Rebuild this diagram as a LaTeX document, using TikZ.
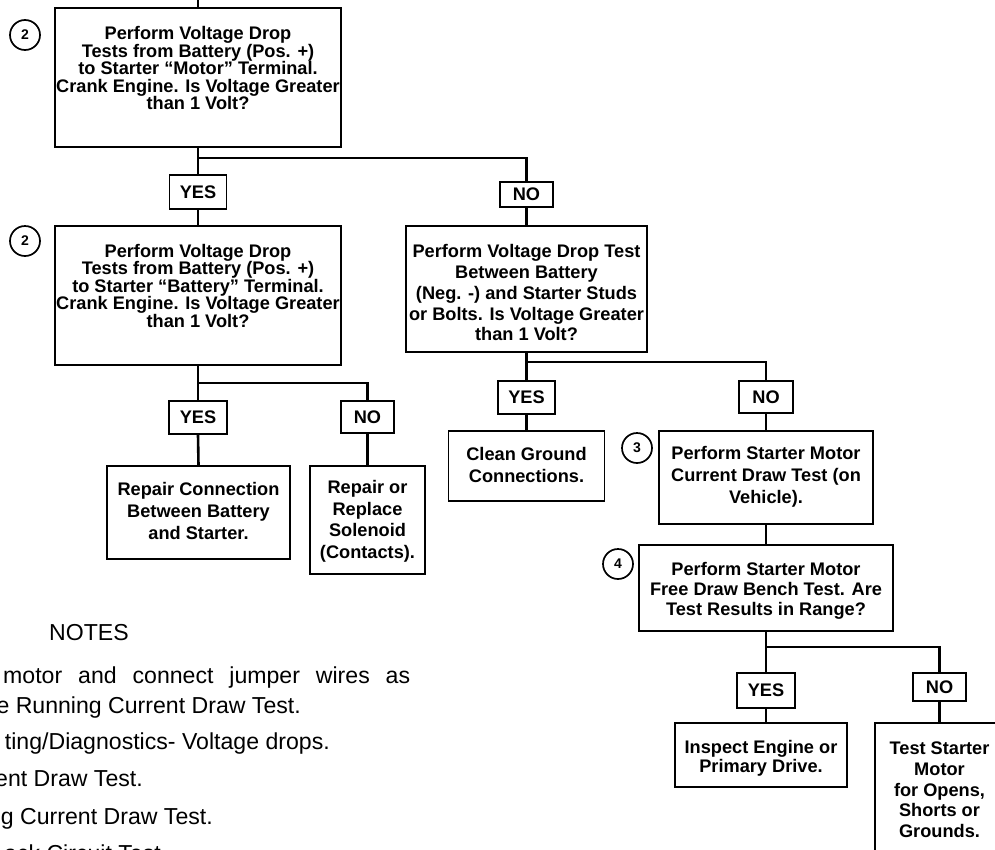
\documentclass[tikz,border=0pt]{standalone}
\usepackage{fontspec}
\setmainfont{Liberation Sans}
\begin{document}
\begin{tikzpicture}[x=1pt,y=-1pt,
  box/.style={draw, line width=1.3pt, rectangle, inner sep=0pt},
  yn/.style={box, font=\bfseries\fontsize{18.2}{20}\selectfont},
  conn/.style={line width=2.6pt},
  txt/.style={font=\bfseries\fontsize{18.2}{#1}\selectfont, align=center, inner sep=0pt},
  num/.style={circle, draw, line width=1.7pt, minimum size=30pt, inner sep=0pt, font=\bfseries\fontsize{14}{15}\selectfont},
  note/.style={font=\fontsize{23.1}{27}\selectfont, inner sep=0pt}]
\useasboundingbox (0,0) rectangle (995,849);
\clip (0,0) rectangle (995,849);

% boxes
\node[box, minimum width=286pt, minimum height=139pt] (b1) at (198,77.5) {};
\node[box, minimum width=286pt, minimum height=139pt] (b2) at (198,295.5) {};
\node[yn, minimum width=57pt, minimum height=34pt] (yes1) at (198,192) {YES};
\node[yn, minimum width=53pt, minimum height=25pt] (no1) at (526.5,194.5) {NO};
\node[box, minimum width=241pt, minimum height=126pt] (b3) at (526.5,289) {};
\node[yn, minimum width=57pt, minimum height=33pt] (yes2) at (526.5,397.5) {YES};
\node[yn, minimum width=54pt, minimum height=32pt] (no2) at (766,397) {NO};
\node[box, minimum width=156pt, minimum height=70pt] (clean) at (526.5,466) {};
\node[box, minimum width=214pt, minimum height=93pt] (cur) at (766,477.5) {};
\node[box, minimum width=254pt, minimum height=86pt] (b4) at (766,588) {};
\node[yn, minimum width=58pt, minimum height=35pt] (yes3) at (766,690.5) {YES};
\node[yn, minimum width=53pt, minimum height=28pt] (no3) at (939.5,687) {NO};
\node[box, minimum width=172pt, minimum height=64pt] (insp) at (761,755) {};
\node[box, minimum width=129pt, minimum height=147pt] (tst) at (939.5,796.5) {};
\node[yn, minimum width=58pt, minimum height=33pt] (yesL) at (198,417.5) {YES};
\node[yn, minimum width=53pt, minimum height=32pt] (noL) at (367.5,417) {NO};
\node[box, minimum width=183pt, minimum height=93pt] (rc) at (198.5,512.5) {};
\node[box, minimum width=115pt, minimum height=108pt] (rr) at (367.5,520) {};

% texts
\node[txt=17.5] (t1) at (198,68.2) {Perform Voltage Drop\\Tests from Battery (Pos. +)\\to Starter “Motor” Terminal.\\Crank Engine. Is Voltage Greater\\than 1 Volt?};
\node[txt=17.5] (t2) at (198,285.8) {Perform Voltage Drop\\Tests from Battery (Pos. +)\\to Starter “Battery” Terminal.\\Crank Engine. Is Voltage Greater\\than 1 Volt?};
\node[txt=20.7] (t3) at (526.5,292.8) {Perform Voltage Drop Test\\Between Battery\\(Neg. -) and Starter Studs\\or Bolts. Is Voltage Greater\\than 1 Volt?};
\node[txt=22.3] (tclean) at (526.5,465.3) {Clean Ground\\Connections.};
\node[txt=22] (tcur) at (766,476.3) {Perform Starter Motor\\Current Draw Test (on\\Vehicle).};
\node[txt=21.8] (trc) at (198.5,510.7) {Repair Connection\\Between Battery\\and Starter.};
\node[txt=21.7] (trr) at (367.5,521.3) {Repair or\\Replace\\Solenoid\\(Contacts).};
\node[txt=20.3] (t4) at (766,591) {Perform Starter Motor\\Free Draw Bench Test. Are\\Test Results in Range?};
\node[txt=19.4] (tinsp) at (761,758.5) {Inspect Engine or\\Primary Drive.};
\node[txt=20.8] (ttst) at (939.5,789.8) {Test Starter\\Motor\\for Opens,\\Shorts or\\Grounds.};

% numbered circles
\node[num] (c1) at (25,35) {2};
\node[num] (c2) at (25,241) {2};
\node[num] (c3) at (637,448) {3};
\node[num] (c4) at (618,564) {4};

% connectors
\coordinate (top) at (198,-5);
\coordinate (j1) at (198,158);
\coordinate (j2) at (198,383);
\coordinate (j3) at (526.5,362);
\coordinate (j4) at (766,647);
\draw[conn] (top) -- (b1.north);
\draw[conn] (b1.south) -- (j1) -- (yes1.north);
\draw[conn] (j1) -| (no1.north);
\draw[conn] (yes1.south) -- (b2.north);
\draw[conn] (no1.south) -- (b3.north);
\draw[conn] (b2.south) -- (j2) -- (yesL.north);
\draw[conn] (j2) -| (noL.north);
\draw[conn] (yesL.south) -- (rc.north);
\draw[conn] (noL.south) -- (rr.north);
\draw[conn] (b3.south) -- (j3) -- (yes2.north);
\draw[conn] (j3) -| (no2.north);
\draw[conn] (yes2.south) -- (clean.north);
\draw[conn] (no2.south) -- (cur.north);
\draw[conn] (cur.south) -- (b4.north);
\draw[conn] (b4.south) -- (j4) -- (yes3.north);
\draw[conn] (j4) -| (no3.north);
\draw[conn] (yes3.south) -- (yes3.south |- insp.north);
\draw[conn] (no3.south) -- (tst.north);

% notes
\node[note, anchor=base west] (notes) at (49,640) {NOTES};
\node[note, anchor=base west] (n1) at (3,683) {\makebox[407pt][s]{motor and connect jumper wires as}};
\node[note, anchor=base east] (n2) at (301,713) {e Running Current Draw Test.};
\node[note, anchor=base east] (n3) at (330,749) {ting/Diagnostics- Voltage drops.};
\node[note, anchor=base east] (n4) at (143,786) {ent Draw Test.};
\node[note, anchor=base east] (n5) at (213,824) {g Current Draw Test.};
\node[note, anchor=base east] (n6) at (161,861) {ack Circuit Test};
\end{tikzpicture}
\end{document}
